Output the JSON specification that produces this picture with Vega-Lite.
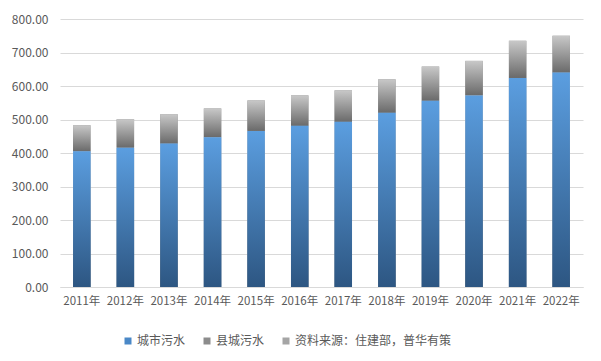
{
  "$schema": "https://vega.github.io/schema/vega-lite/v6.json",
  "autosize": "none",
  "width": 523,
  "height": 268,
  "padding": {"left": 60, "top": 19, "right": 18, "bottom": 74},
  "background": "white",
  "data": {
    "values": [
      {"year": "2011年", "type": "城市污水", "value": 405},
      {"year": "2012年", "type": "城市污水", "value": 416},
      {"year": "2013年", "type": "城市污水", "value": 428},
      {"year": "2014年", "type": "城市污水", "value": 447},
      {"year": "2015年", "type": "城市污水", "value": 466},
      {"year": "2016年", "type": "城市污水", "value": 481},
      {"year": "2017年", "type": "城市污水", "value": 493},
      {"year": "2018年", "type": "城市污水", "value": 520},
      {"year": "2019年", "type": "城市污水", "value": 556},
      {"year": "2020年", "type": "城市污水", "value": 572},
      {"year": "2021年", "type": "城市污水", "value": 624},
      {"year": "2022年", "type": "城市污水", "value": 640},
      {"year": "2011年", "type": "县城污水", "value": 78},
      {"year": "2012年", "type": "县城污水", "value": 85},
      {"year": "2013年", "type": "县城污水", "value": 88},
      {"year": "2014年", "type": "县城污水", "value": 86},
      {"year": "2015年", "type": "县城污水", "value": 91},
      {"year": "2016年", "type": "县城污水", "value": 91},
      {"year": "2017年", "type": "县城污水", "value": 94},
      {"year": "2018年", "type": "县城污水", "value": 100},
      {"year": "2019年", "type": "县城污水", "value": 102},
      {"year": "2020年", "type": "县城污水", "value": 103},
      {"year": "2021年", "type": "县城污水", "value": 111},
      {"year": "2022年", "type": "县城污水", "value": 110},
      {"year": "2011年", "type": "资料来源：住建部，普华有策", "value": 0}
    ]
  },
  "encoding": {
    "x": {
      "field": "year",
      "type": "nominal",
      "sort": null,
      "scale": {"paddingInner": 0.6, "paddingOuter": 0.3},
      "axis": {
        "title": null,
        "labelAngle": 0,
        "labelOverlap": false,
        "labelFontSize": 11.5,
        "labelFont": "Noto Sans CJK SC",
        "labelColor": "#595959",
        "labelPadding": 8,
        "ticks": false,
        "domainColor": "#d9d9d9",
        "grid": false
      }
    },
    "y": {
      "field": "value",
      "type": "quantitative",
      "aggregate": "sum",
      "stack": "zero",
      "scale": {"domain": [0, 800], "nice": false},
      "axis": {
        "title": null,
        "values": [0, 100, 200, 300, 400, 500, 600, 700, 800],
        "format": ".2f",
        "labelFontSize": 12,
        "labelFont": "Noto Sans CJK SC",
        "labelColor": "#595959",
        "labelPadding": 12,
        "ticks": false,
        "domain": false,
        "gridColor": "#d9d9d9"
      }
    },
    "order": {"field": "type", "sort": "descending"}
  },
  "layer": [
    {
      "mark": {"type": "bar"},
      "encoding": {
        "color": {
          "field": "type",
          "type": "nominal",
          "scale": {
            "domain": ["城市污水", "县城污水", "资料来源：住建部，普华有策"],
            "range": ["#4A88C7", "#8C8C8C", "#A5A5A5"]
          },
          "legend": {
            "title": null,
            "orient": "none",
            "direction": "horizontal",
            "legendX": 62,
            "legendY": 316,
            "symbolType": "square",
            "symbolSize": 49,
            "symbolStrokeWidth": 0,
            "labelFontSize": 12,
            "labelFont": "Noto Sans CJK SC",
            "labelColor": "#595959",
            "labelOffset": 3,
            "columnPadding": 15
          }
        }
      }
    },
    {
      "mark": {
        "type": "bar",
        "color": {"gradient": "linear", "x1": 0, "y1": 0, "x2": 0, "y2": 1, "stops": [{"offset": 0, "color": "#C8C8C8"}, {"offset": 1, "color": "#6A6A6A"}]}
      },
      "encoding": {"detail": {"field": "type", "type": "nominal"}}
    },
    {
      "transform": [{"filter": "datum.type === '城市污水'"}],
      "mark": {
        "type": "bar",
        "color": {"gradient": "linear", "x1": 0, "y1": 0, "x2": 0, "y2": 1, "stops": [{"offset": 0, "color": "#5B9EE0"}, {"offset": 1, "color": "#2D5682"}]}
      },
      "encoding": {}
    }
  ],
  "config": {"view": {"stroke": null}}
}
